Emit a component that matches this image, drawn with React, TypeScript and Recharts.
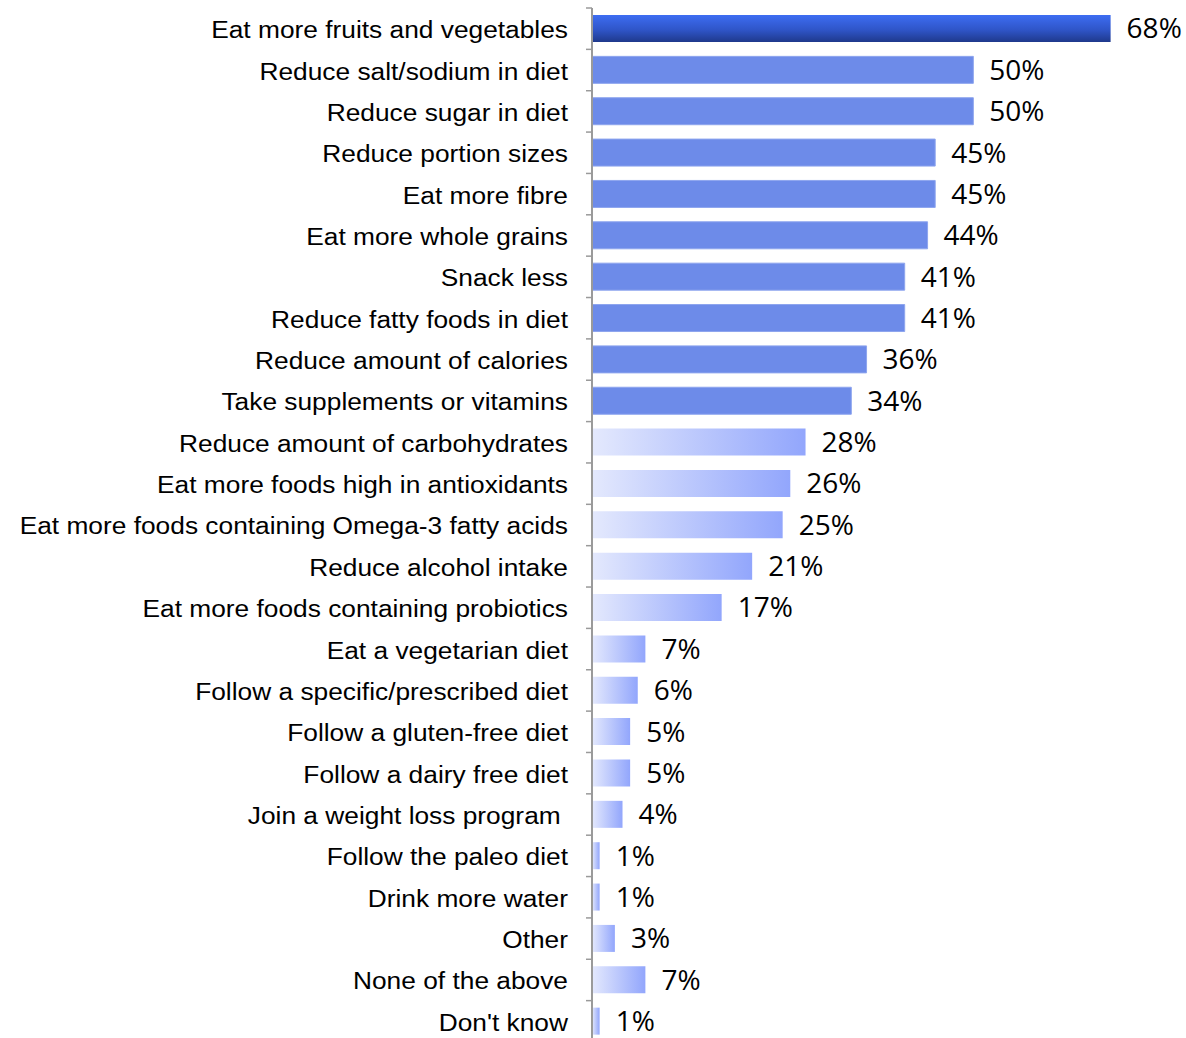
import React from "react"
import { Bar, BarChart, Cell, LabelList, XAxis, YAxis } from "recharts"

const categories = [
  "Eat more fruits and vegetables",
  "Reduce salt/sodium in diet",
  "Reduce sugar in diet",
  "Reduce portion sizes",
  "Eat more fibre",
  "Eat more whole grains",
  "Snack less",
  "Reduce fatty foods in diet",
  "Reduce amount of calories",
  "Take supplements or vitamins",
  "Reduce amount of carbohydrates",
  "Eat more foods high in antioxidants",
  "Eat more foods containing Omega-3 fatty acids",
  "Reduce alcohol intake",
  "Eat more foods containing probiotics",
  "Eat a vegetarian diet",
  "Follow a specific/prescribed diet",
  "Follow a gluten-free diet",
  "Follow a dairy free diet",
  "Join a weight loss program ",
  "Follow the paleo diet",
  "Drink more water",
  "Other",
  "None of the above",
  "Don't know",
]

const percents = [68, 50, 50, 45, 45, 44, 41, 41, 36, 34, 28, 26, 25, 21, 17, 7, 6, 5, 5, 4, 1, 1, 3, 7, 1]

const data = categories.map((name, i) => ({ name, value: percents[i] }))

// layout
const W = 1186
const H = 1042
const TOP = 8
const AXIS_W = 592
const STEP = (H - TOP) / categories.length

function fillFor(i: number) {
  if (i === 0) return "url(#topBar)"
  if (i < 10) return "#6d8be9"
  return "url(#lightBar)"
}

// labels in the source are a bit wider than plain Arial
function CategoryTick(props: any) {
  const { x, y, payload, index } = props
  return (
    <g>
      <line x1={AXIS_W - 6} x2={AXIS_W} y1={y - STEP / 2} y2={y - STEP / 2} stroke="#9a9a9a" strokeWidth={1.5} />
      {index === categories.length - 1 && (
        <line x1={AXIS_W - 6} x2={AXIS_W} y1={y + STEP / 2} y2={y + STEP / 2} stroke="#9a9a9a" strokeWidth={1.5} />
      )}
      <text
        transform={`translate(${x},${y + 1}) scale(1.12,1)`}
        textAnchor="end"
        dominantBaseline="central"
        fill="#000"
        style={{
          fontFamily: "'Liberation Sans', Arial, sans-serif",
          fontSize: 23.5,
          whiteSpace: "pre",
        }}
      >
        {payload.value}
      </text>
    </g>
  )
}

export default function App() {
  return (
    <div style={{ position: "absolute", top: 0, left: 0, background: "#fff" }}>
      <BarChart
        width={W}
        height={H}
        data={data}
        layout="vertical"
        margin={{ top: TOP, right: 22, bottom: 0, left: 0 }}
        barCategoryGap={0}
      >
        <defs>
          <linearGradient id="topBar" x1="0" y1="0" x2="0" y2="1">
            <stop offset="0%" stopColor="#3d6df2" />
            <stop offset="55%" stopColor="#2f55c8" />
            <stop offset="100%" stopColor="#1f398c" />
          </linearGradient>
          <linearGradient id="lightBar" x1="0" y1="0" x2="1" y2="0">
            <stop offset="0%" stopColor="#e4e9fd" />
            <stop offset="100%" stopColor="#92a6fc" />
          </linearGradient>
        </defs>
        <XAxis type="number" domain={[0, 75]} hide />
        <YAxis
          type="category"
          dataKey="name"
          width={AXIS_W}
          interval={0}
          tickLine={false}
          tickSize={0}
          tickMargin={24}
          axisLine={{ stroke: "#9a9a9a", strokeWidth: 2 }}
          tick={<CategoryTick />}
        />
        <Bar dataKey="value" barSize={27} isAnimationActive={false}>
          {data.map((d, i) => (
            <Cell key={d.name} fill={fillFor(i)} stroke={i > 0 && i < 10 ? "#8ea5ee" : "none"} strokeWidth={1} />
          ))}
          <LabelList
            dataKey="value"
            position="right"
            offset={16}
            formatter={(v: any) => `${v}%`}
            style={{ fontFamily: "'Open Sans', sans-serif", fontSize: 28, fill: "#000" }}
          />
        </Bar>
      </BarChart>
    </div>
  )
}
